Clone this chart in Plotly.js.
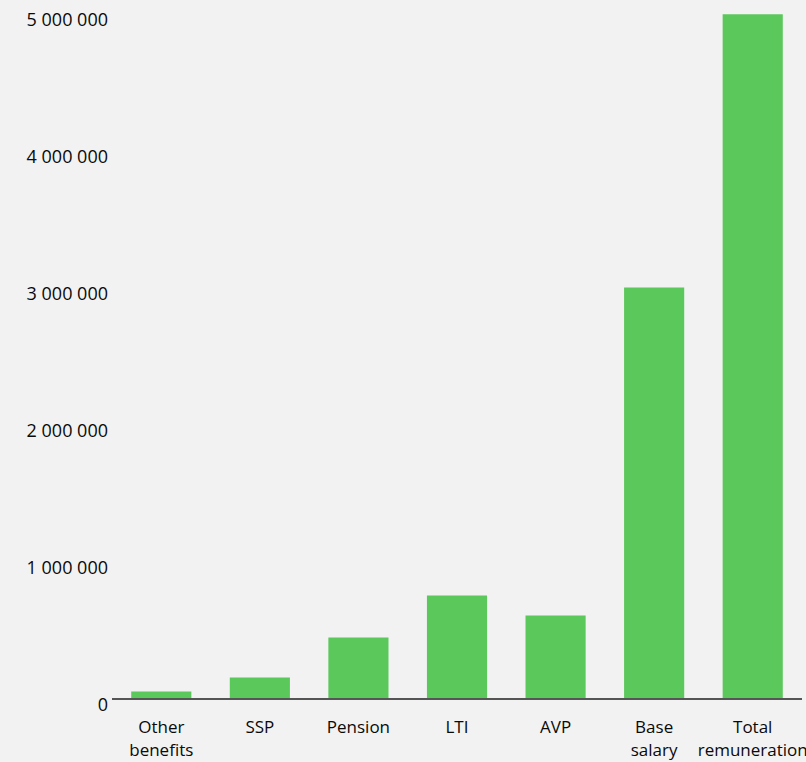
<!DOCTYPE html>
<html>
<head>
<meta charset="utf-8">
<script src="https://cdn.plot.ly/plotly-3.0.1.min.js"></script>
<style>
html,body{margin:0;padding:0;background:#f2f2f2;}
#chart{width:806px;height:762px;}
</style>
</head>
<body>
<div id="chart"></div>
<script>
const categories = ["Other<br>benefits", "SSP", "Pension", "LTI", "AVP", "Base<br>salary", "Total<br>remuneration"];
const values = [47000, 150000, 442000, 748000, 602000, 2996000, 4989000];
const tickValues = [0, 1000000, 2000000, 3000000, 4000000, 5000000];

const trace = {
  type: "bar",
  x: categories,
  y: values,
  marker: {color: "#5bc85b"},
  hoverinfo: "x+y"
};

const layout = {
  width: 806,
  height: 762,
  paper_bgcolor: "#f2f2f2",
  plot_bgcolor: "#f2f2f2",
  separators: ". ",
  margin: {l: 112, r: 4, t: 6, b: 64},
  bargap: 0.39,
  font: {family: "Open Sans, sans-serif", size: 17, color: "#111111"},
  xaxis: {
    type: "category",
    range: [-0.5, 6.5],
    showline: true,
    linecolor: "#555555",
    linewidth: 2,
    showgrid: false,
    zeroline: false,
    ticks: "",
    ticklabelstandoff: 13,
    tickfont: {size: 17, color: "#0a0a0a"},
    fixedrange: true
  },
  yaxis: {
    range: [0, 5050000],
    tickvals: tickValues,
    tickformat: ",d",
    showgrid: false,
    zeroline: false,
    showline: false,
    ticks: "",
    ticklabelshift: 7,
    ticklabelstandoff: 3,
    tickfont: {size: 18, color: "#0a0a0a"},
    fixedrange: true
  },
  showlegend: false
};

Plotly.newPlot("chart", [trace], layout, {displayModeBar: false, staticPlot: true});
</script>
</body>
</html>
